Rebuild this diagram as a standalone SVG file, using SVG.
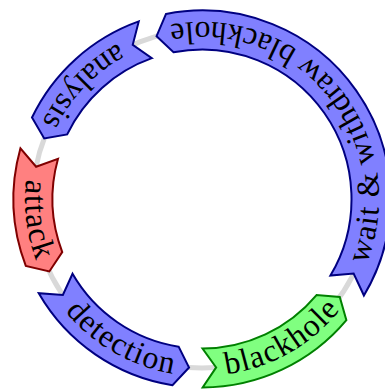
<svg xmlns="http://www.w3.org/2000/svg" width="385" height="389" viewBox="0 0 385 389">
<style>
.seg{stroke-width:2;stroke-linejoin:miter}
.blue{fill:#8080ff;stroke:#000080}
.red{fill:#ff8080;stroke:#800000}
.green{fill:#80ff80;stroke:#008000}
.lbl{font-family:"Liberation Serif","Times New Roman",serif;font-size:32px;letter-spacing:1.2px;fill:#000}
.ring{fill:none;stroke:#d9d9d9;stroke-width:5}
</style>
<defs>
<path id="tp-analysis" d="M311.93,60.29 A177,177 0 0 0 69.64,316.51"/>
<path id="tp-attack" d="M164.6,26 A177,177 0 0 0 208.8,375.88"/>
<path id="tp-detection" d="M41.46,124.48 A177,177 0 0 0 347.18,300.28"/>
<path id="tp-blackhole" d="M56.47,299.77 A177,177 0 0 0 362.8,125.03"/>
<path id="tp-wait" d="M326.5,324.81 A177,177 0 0 0 101.23,53.47"/>
</defs>
<g id="connectors">
<circle class="ring" cx="202" cy="199" r="169"/>
</g>
<g id="analysis">
<path class="seg blue" d="M138.76,21.41 A188.5,188.5 0 0 0 31.99,117.55 L44.22,138.43 L67.17,134.4 A149.5,149.5 0 0 1 151.84,58.16 L132.73,44.86 Z"/>
<text class="lbl"><textPath href="#tp-analysis" startOffset="50%" text-anchor="middle">analysis</textPath></text>
</g>
<g id="attack">
<path class="seg red" d="M20.44,148.31 A188.5,188.5 0 0 0 25.79,265.94 L49.34,271.48 L62.25,252.09 A149.5,149.5 0 0 1 58,158.8 L36.11,166.75 Z"/>
<text class="lbl"><textPath href="#tp-attack" startOffset="50%" text-anchor="middle">attack</textPath></text>
</g>
<g id="detection">
<path class="seg blue" d="M38.76,293.25 A188.5,188.5 0 0 0 172.52,385.18 L189.04,367.51 L178.62,346.66 A149.5,149.5 0 0 1 72.53,273.75 L62.88,294.98 Z"/>
<text class="lbl"><textPath href="#tp-detection" startOffset="50%" text-anchor="middle">detection</textPath></text>
</g>
<g id="blackhole">
<path class="seg green" d="M202.66,387.5 A188.5,188.5 0 0 0 346.39,320.17 L339.77,296.9 L316.52,295.1 A149.5,149.5 0 0 1 202.52,348.5 L216.15,367.41 Z"/>
<text class="lbl"><textPath href="#tp-blackhole" startOffset="50%" text-anchor="middle">blackhole</textPath></text>
</g>
<g id="wait-withdraw">
<path class="seg blue" d="M363.92,295.53 A188.5,188.5 0 0 0 166.03,13.97 L156.56,36.22 L173.48,52.25 A149.5,149.5 0 0 1 330.42,275.56 L353.64,273.61 Z"/>
<text class="lbl"><textPath href="#tp-wait" startOffset="50%" text-anchor="middle">wait &amp; withdraw blackhole</textPath></text>
</g>
</svg>
